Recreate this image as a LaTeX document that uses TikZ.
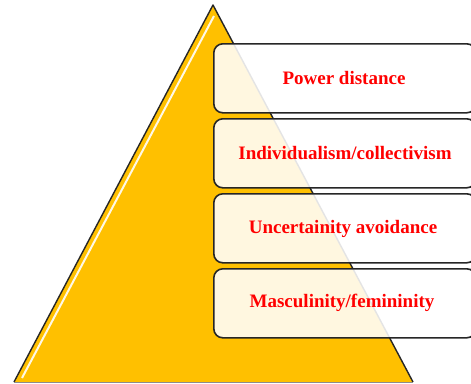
\documentclass[tikz,border=0pt]{standalone}
\usepackage{fontspec}
\setmainfont{Liberation Serif}
\begin{document}
\begin{tikzpicture}[x=1pt,y=-1pt,
  dimbox/.style={draw=black!85,line width=1.6pt,rounded corners=9pt,fill=white,fill opacity=0.88,text opacity=1,
    minimum width=262pt,minimum height=69pt,anchor=north west,inner sep=0pt},
  dimtext/.style={text=red,font=\bfseries\fontsize{19}{22}\selectfont}]
\useasboundingbox (0,0) rectangle (471,383);
\path[fill=white] (0,0) rectangle (471,383);
\coordinate (apex) at (213,5);
\coordinate (bl) at (14,382);
\coordinate (br) at (413,382);
\fill[fill={rgb,255:red,255;green,192;blue,0}] (apex) -- (br) -- (bl) -- cycle;
\draw[white,line width=2pt,opacity=0.9] (214,16) -- (22,378);
\draw[black!85,line width=1.4pt,line join=round] (bl) -- (apex) -- (br);
\draw[black!45,line width=1pt] (bl) -- (br);
\node[dimbox] (b1) at (213,43) {};
\node[dimbox] (b2) at (213,118) {};
\node[dimbox] (b3) at (213,193) {};
\node[dimbox] (b4) at (213,268) {};
\node[dimtext] (t1) at (344,78) {Power distance};
\node[dimtext] (t2) at (345,153) {Individualism/collectivism};
\node[dimtext] (t3) at (343,229) {Uncertainity avoidance};
\node[dimtext] (t4) at (342,303) {Masculinity/femininity};
\end{tikzpicture}
\end{document}
